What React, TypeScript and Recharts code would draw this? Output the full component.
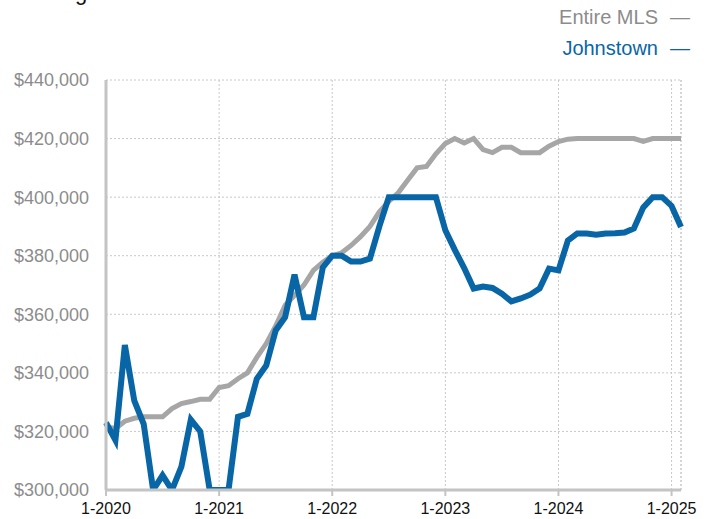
import { CartesianGrid, Line, LineChart, ReferenceLine, XAxis, YAxis } from "recharts";

const years = [2020, 2021, 2022, 2023, 2024, 2025];
const monthNums = [1, 2, 3, 4, 5, 6, 7, 8, 9, 10, 11, 12];
// Jan 2020 .. Feb 2025
const months = years
  .flatMap((y) => monthNums.map((m) => `${m}-${y}`))
  .slice(0, 62);

const xTicks = ["1-2020", "1-2021", "1-2022", "1-2023", "1-2024", "1-2025"];
const yTicks = [300000, 320000, 340000, 360000, 380000, 400000, 420000, 440000];

const entireMls = [
  321500, 321000, 323500, 324500, 325000, 325000, 325000, 327800, 329500, 330200, 331000, 331000,
  335000, 335600, 338000, 340000, 345300, 350000, 356000, 363000, 366500, 370000, 375000, 377800,
  380000, 381000, 383500, 386500, 390000, 395000, 398500, 401500, 405800, 410000, 410500, 414800,
  418300, 420000, 418500, 420000, 416200, 415200, 417000, 417000, 415200, 415200, 415200, 417400,
  419000, 419800, 420000, 420000, 420000, 420000, 420000, 420000, 420000, 419000, 420000, 420000,
  420000, 420000,
];

const johnstown = [
  323000, 317000, 349500, 330500, 322500, 300000, 305000, 300000, 308000, 324000, 320000, 300000,
  300000, 300000, 325000, 326000, 338000, 342500, 354500, 359000, 373500, 359000, 359000, 376000,
  380000, 380000, 378000, 378000, 379000, 390000, 400000, 400000, 400000, 400000, 400000, 400000,
  388700, 382000, 375800, 368800, 369500, 369000, 367000, 364400, 365400, 366700, 368800, 375600,
  375000, 385200, 387600, 387600, 387200, 387600, 387700, 387900, 389300, 396500, 400000, 400000,
  397000, 389800,
];

const series = [
  { key: "mls", name: "Entire MLS", color: "#a6a6a6", text: "#8c8c8c", width: 5 },
  { key: "jt", name: "Johnstown", color: "#0866a6", text: "#0866a6", width: 6 },
];

const data = months.map((month, i) => ({ month, mls: entireMls[i], jt: johnstown[i] }));

const font = '"Liberation Sans", Arial, sans-serif';
const money = (v: number) => "$" + v.toLocaleString("en-US");

export default function App() {
  return (
    <div
      style={{
        position: "absolute",
        left: 0,
        top: 0,
        width: 710,
        height: 519,
        overflow: "hidden",
        fontFamily: font,
        background: "#fff",
      }}
    >
      <div
        style={{
          position: "absolute",
          left: 20,
          top: -18,
          fontSize: 22,
          lineHeight: "22px",
          color: "#111",
          whiteSpace: "nowrap",
        }}
      >
        Rolling 12-Month Calculation
      </div>
      <div
        style={{
          position: "absolute",
          right: 20,
          top: 2,
          fontSize: 20,
          lineHeight: "31px",
          textAlign: "right",
        }}
      >
        {series.map((s) => (
          <div key={s.key} style={{ color: s.text }}>
            {s.name}
            <span style={{ marginLeft: 12 }}>—</span>
          </div>
        ))}
      </div>
      <LineChart width={710} height={519} data={data} margin={{ top: 80, right: 29, left: 0, bottom: 0 }}>
        <CartesianGrid stroke="#c8c8c8" strokeDasharray="2 2" />
        <ReferenceLine x="2-2025" stroke="#c8c8c8" strokeDasharray="2 2" />
        <XAxis
          dataKey="month"
          ticks={xTicks}
          interval={0}
          height={29}
          padding={{ left: 0, right: 0 }}
          axisLine={{ stroke: "#c4c4c4", strokeWidth: 3 }}
          tickLine={{ stroke: "#c4c4c4", strokeWidth: 2 }}
          tickSize={6}
          tickMargin={7}
          tick={{ fill: "#111", fontSize: 16, fontFamily: font }}
        />
        <YAxis
          domain={[300000, 440000]}
          ticks={yTicks}
          allowDataOverflow
          width={106}
          tickFormatter={money}
          axisLine={{ stroke: "#c4c4c4", strokeWidth: 3 }}
          tickLine={false}
          tickSize={0}
          tickMargin={17}
          tick={{ fill: "#8c8c8c", fontSize: 18, fontFamily: font }}
        />
        {series.map((s) => (
          <Line
            key={s.key}
            dataKey={s.key}
            name={s.name}
            type="linear"
            stroke={s.color}
            strokeWidth={s.width}
            dot={false}
            activeDot={false}
            isAnimationActive={false}
          />
        ))}
      </LineChart>
    </div>
  );
}
